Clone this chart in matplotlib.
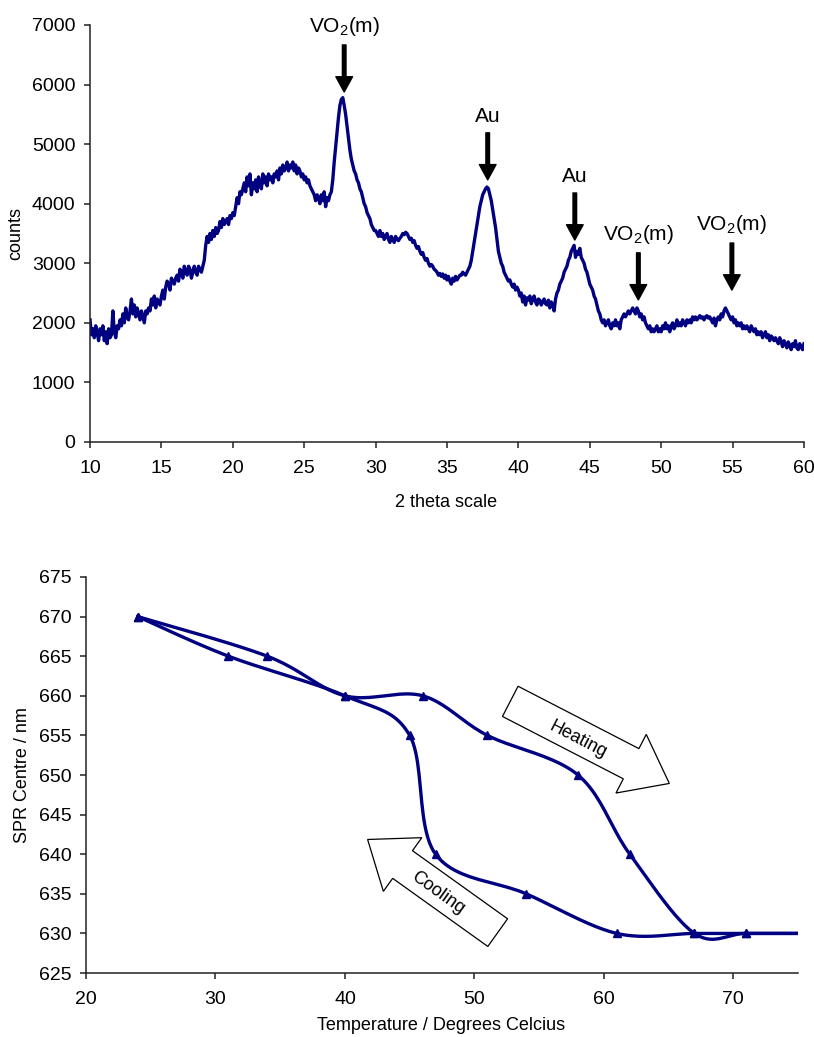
import numpy as np
import matplotlib
matplotlib.use("Agg")
import matplotlib.pyplot as plt
from matplotlib.patches import Polygon
from matplotlib.transforms import Affine2D, ScaledTranslation

plt.rcParams['font.family'] = ['Liberation Sans', 'DejaVu Sans']
plt.rcParams['mathtext.fontset'] = 'custom'
plt.rcParams['mathtext.rm'] = 'Liberation Sans'
plt.rcParams['mathtext.it'] = 'Liberation Sans:italic'

NAVY = '#000080'

# ---- XRD scan, 2 theta = 10..60 in 0.1 deg steps (20 readings per row)
counts = [
    2050, 1800, 1900, 1750, 1950, 1850, 1700, 1900, 1800, 1950, 1700, 1850, 1650, 1900, 1750, 1800, 2200, 1850, 1750, 1950,
    1900, 2050, 1950, 2150, 2000, 2250, 2100, 2050, 2200, 2400, 2150, 2300, 2100, 2250, 2150, 2050, 2200, 2100, 2000, 2200,
    2150, 2250, 2200, 2400, 2300, 2450, 2250, 2400, 2350, 2300, 2450, 2550, 2400, 2600, 2700, 2650, 2550, 2750, 2700, 2650,
    2750, 2800, 2700, 2900, 2850, 2750, 2950, 2850, 2800, 2950, 2900, 2750, 2850, 2950, 2850, 2800, 2950, 2900, 2850, 2950,
    3050, 3300, 3450, 3350, 3500, 3400, 3550, 3450, 3600, 3500, 3550, 3700, 3600, 3750, 3650, 3700, 3750, 3650, 3800, 3750,
    3850, 3800, 3950, 4100, 4000, 4200, 4150, 4250, 4350, 4200, 4450, 4300, 4500, 4150, 4350, 4250, 4400, 4200, 4450, 4300,
    4250, 4500, 4350, 4450, 4300, 4500, 4400, 4450, 4350, 4500, 4450, 4550, 4400, 4600, 4500, 4650, 4550, 4600, 4700, 4550,
    4650, 4600, 4700, 4550, 4650, 4500, 4600, 4550, 4450, 4500, 4400, 4450, 4350, 4400, 4300, 4250, 4200, 4150, 4050, 4150,
    4100, 4000, 4150, 4050, 4200, 3950, 4100, 4050, 4150, 4200, 4400, 4700, 4950, 5200, 5450, 5650, 5750, 5780, 5650, 5500,
    5300, 5100, 4900, 4750, 4650, 4550, 4500, 4400, 4350, 4250, 4200, 4100, 4000, 3950, 3850, 3800, 3750, 3650, 3600, 3550,
    3550, 3500, 3450, 3550, 3450, 3500, 3400, 3450, 3500, 3400, 3350, 3450, 3400, 3350, 3450, 3400, 3380, 3420, 3450, 3500,
    3480, 3520, 3500, 3450, 3400, 3420, 3350, 3380, 3300, 3250, 3280, 3200, 3150, 3180, 3100, 3050, 3080, 3000, 2950, 2980,
    2950, 2900, 2880, 2850, 2800, 2830, 2780, 2820, 2750, 2800, 2720, 2780, 2700, 2650, 2750, 2700, 2780, 2720, 2760, 2800,
    2800, 2850, 2820, 2800, 2850, 2900, 2950, 3050, 3200, 3350, 3500, 3650, 3800, 3950, 4050, 4150, 4200, 4250, 4280, 4250,
    4150, 4050, 3900, 3750, 3600, 3400, 3200, 3100, 3000, 2950, 2850, 2800, 2750, 2700, 2720, 2650, 2600, 2650, 2550, 2600,
    2550, 2450, 2500, 2350, 2450, 2300, 2420, 2380, 2450, 2320, 2400, 2450, 2350, 2300, 2400, 2380, 2300, 2350, 2400, 2320,
    2300, 2380, 2250, 2350, 2300, 2200, 2400, 2500, 2550, 2650, 2700, 2750, 2850, 2900, 2950, 3050, 3100, 3200, 3250, 3300,
    3100, 3200, 3150, 3250, 3100, 3050, 3000, 2900, 2850, 2750, 2650, 2600, 2550, 2450, 2400, 2300, 2200, 2150, 2050, 2000,
    2050, 1950, 2000, 2050, 1950, 1900, 2000, 1950, 2050, 1950, 2000, 1900, 2050, 2100, 2150, 2100, 2150, 2200, 2150, 2200,
    2250, 2200, 2150, 2250, 2200, 2100, 2150, 2050, 2100, 2000, 1950, 1900, 1950, 1850, 1900, 1850, 1900, 1950, 1850, 1900,
    1850, 1950, 1900, 2000, 1900, 1950, 1850, 1950, 2000, 1900, 1950, 2050, 1950, 2000, 1950, 2050, 2000, 1950, 2050, 2000,
    2050, 2000, 2100, 2050, 2100, 2050, 2080, 2120, 2080, 2100, 2050, 2100, 2120, 2080, 2100, 2050, 2000, 2080, 1950, 2050,
    2100, 2050, 2150, 2100, 2200, 2250, 2200, 2150, 2100, 2050, 2100, 2000, 2050, 1950, 2000, 1950, 2000, 1900, 1950, 1900,
    1950, 1900, 1850, 1950, 1900, 1850, 1900, 1800, 1850, 1800, 1850, 1750, 1800, 1850, 1750, 1800, 1700, 1780, 1750, 1700,
    1750, 1700, 1650, 1750, 1680, 1600, 1700, 1650, 1580, 1680, 1620, 1550, 1650, 1600, 1700, 1580, 1550, 1650, 1600, 1550,
    1650,
]
two_theta = np.linspace(10, 60, len(counts))

# peak assignments
peak_names = ['VO$_2$(m)', 'Au', 'Au', 'VO$_2$(m)', 'VO$_2$(m)']
peak_theta = [27.8, 37.85, 43.95, 48.4, 54.95]
peak_tip = [5875, 4400, 3390, 2385, 2550]

# ---- SPR centre vs temperature
heat_T = [24, 34, 40, 46, 51, 58, 62, 67, 71, 76]
heat_nm = [670, 665, 660, 660, 655, 650, 640, 630, 630, 630]
cool_T = [76, 71, 67, 61, 54, 47, 45, 40, 31, 24]
cool_nm = [630, 630, 630, 630, 635, 640, 655, 660, 665, 670]


def smooth(x, y, n=24):
    # bezier smoothing through every point, tangents from neighbours
    p = np.column_stack([x, y]).astype(float)
    p = np.vstack([p[0], p, p[-1]])
    t = np.linspace(0, 1, n)[:, None]
    segs = []
    for i in range(1, len(p) - 2):
        p0, p1, p2, p3 = p[i - 1], p[i], p[i + 1], p[i + 2]
        c1 = p1 + (p2 - p0) / 6
        c2 = p2 - (p3 - p1) / 6
        s = (1 - t)**3 * p1 + 3 * (1 - t)**2 * t * c1 + 3 * (1 - t) * t**2 * c2 + t**3 * p2
        segs.append(s if i == 1 else s[1:])
    s = np.vstack(segs)
    return s[:, 0], s[:, 1]


def block_arrow(ax, x, y, length, angle, body=34, head_w=66, head_l=43):
    # outlined block arrow drawn in pixels, tail centre at (x, y) data
    b, hw = body / 2, head_w / 2
    s = length - head_l
    verts = [(0, -b), (s, -b), (s, -hw), (length, 0), (s, hw), (s, b), (0, b)]
    tr = Affine2D().rotate_deg(angle) + ScaledTranslation(x, y, ax.transData)
    ax.add_patch(Polygon(verts, closed=True, transform=tr, fc='white',
                         ec='black', lw=0.9, zorder=1, clip_on=False))


def style_axes(ax):
    for side in ['top', 'right']:
        ax.spines[side].set_visible(False)
    for side in ['left', 'bottom']:
        ax.spines[side].set_linewidth(1.1)
        ax.spines[side].set_color('#222222')
    ax.tick_params(direction='out', length=4, width=1.1, labelsize=14,
                   color='#222222')
    ax.tick_params(axis='x', pad=9)
    ax.tick_params(axis='y', pad=6.5)


fig = plt.figure(figsize=(8.14, 10.37), dpi=100)

# top: diffraction pattern
ax1 = fig.add_axes([0.1106, 0.5738, 0.8771, 0.4021])
ax1.plot(two_theta, counts, color=NAVY, lw=2.4, solid_joinstyle='round')
ax1.set_xlim(10, 60)
ax1.set_ylim(0, 7000)
ax1.set_xticks(np.arange(10, 61, 5))
ax1.set_yticks(np.arange(0, 7001, 1000))
style_axes(ax1)
ax1.set_xlabel('2 theta scale', fontsize=13)
ax1.set_ylabel('counts', fontsize=13)
ax1.xaxis.set_label_coords(0.499, -0.125)
ax1.yaxis.set_label_coords(-0.092, 0.5)

for name, xp, tip in zip(peak_names, peak_theta, peak_tip):
    top = tip + 790
    ax1.annotate('', xy=(xp, tip), xytext=(xp, top),
                 arrowprops=dict(facecolor='black', edgecolor='black',
                                 width=2.6, headwidth=12, headlength=11, shrink=0))
    ax1.text(xp, top + 120, name, ha='center', va='bottom', fontsize=15)

# bottom: hysteresis of SPR centre
ax2 = fig.add_axes([0.1057, 0.0617, 0.8747, 0.3819])
for T, nm in [(heat_T, heat_nm), (cool_T, cool_nm)]:
    sx, sy = smooth(T, nm)
    ax2.plot(sx, sy, color=NAVY, lw=2.4, zorder=3)
    ax2.plot(T, nm, ls='none', marker='^', ms=5.5, color=NAVY, zorder=4)
ax2.set_xlim(20, 75)
ax2.set_ylim(625, 675)
ax2.set_xticks(np.arange(20, 71, 10))
ax2.set_yticks(np.arange(625, 676, 5))
style_axes(ax2)
ax2.set_xlabel('Temperature / Degrees Celcius', fontsize=13)
ax2.set_ylabel('SPR Centre / nm', fontsize=13)
ax2.xaxis.set_label_coords(0.499, -0.11)
ax2.yaxis.set_label_coords(-0.077, 0.5)

block_arrow(ax2, 52.77, 659.3, 179, -27.3)
ax2.text(58.0, 654.4, 'Heating', rotation=-27.3, rotation_mode='anchor',
         ha='center', va='center', fontsize=13, zorder=2)
block_arrow(ax2, 51.8, 630.1, 160, 144.4)
ax2.text(47.2, 635.1, 'Cooling', rotation=-35.6, rotation_mode='anchor',
         ha='center', va='center', fontsize=13, zorder=2)

fig.savefig('out.png', dpi=100)
